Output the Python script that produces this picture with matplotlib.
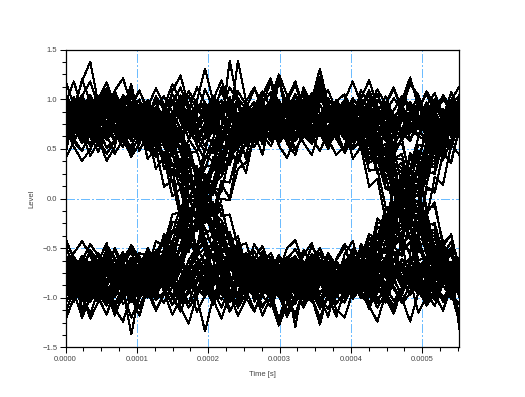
import numpy as np
import matplotlib
matplotlib.use('Agg')
import matplotlib.pyplot as plt
from matplotlib.ticker import MultipleLocator

plt.rcParams['font.family'] = ['Liberation Sans', 'DejaVu Sans']

# time between two samples of a trace [s]
sample_step = 1.15e-5

# eye diagram traces, levels in hundredths, grouped by symbol sequence
hi_hi_hi = [
    [62, 78, 95, 88, 70, 51, 59, 83, 101, 92, 74, 66, 81, 97, 85, 60, 47, 63, 79, 72, 90, 108, 94, 71, 58, 66, 85, 99, 82, 64, 55, 73, 91, 86, 68, 77, 96, 104, 83, 61, 52, 70, 88, 79, 94, 80, 63, 75, 92],
    [88, 71, 56, 64, 86, 103, 97, 77, 60, 72, 93, 84, 65, 50, 68, 89, 112, 96, 73, 62, 80, 70, 53, 66, 90, 98, 79, 87, 104, 82, 61, 48, 67, 85, 76, 92, 71, 58, 74, 95, 110, 89, 69, 81, 64, 57, 78, 99, 86],
    [70, 92, 118, 138, 95, 74, 66, 52, 71, 87, 80, 63, 77, 99, 91, 68, 58, 76, 94, 84, 62, 73, 96, 85, 107, 92, 69, 57, 64, 88, 79, 100, 93, 72, 60, 83, 74, 55, 63, 87, 101, 90, 66, 78, 97, 76, 59, 68, 85],
    [55, 68, 84, 73, 91, 105, 88, 64, 49, 62, 85, 97, 78, 69, 57, 74, 93, 81, 100, 119, 95, 72, 60, 81, 70, 58, 77, 92, 83, 66, 88, 109, 97, 75, 63, 52, 71, 90, 86, 103, 81, 67, 58, 79, 94, 106, 84, 65, 73],
    [96, 83, 67, 79, 60, 45, 58, 76, 89, 99, 84, 70, 92, 81, 63, 75, 98, 131, 97, 80, 68, 54, 70, 91, 79, 95, 86, 64, 72, 93, 102, 77, 62, 81, 99, 87, 66, 79, 61, 48, 66, 85, 92, 73, 88, 100, 79, 62, 80],
    [74, 59, 71, 94, 102, 86, 69, 80, 97, 76, 57, 66, 88, 105, 93, 72, 83, 65, 54, 73, 139, 96, 81, 70, 86, 100, 74, 61, 79, 66, 84, 98, 109, 88, 70, 58, 75, 93, 80, 67, 89, 103, 94, 72, 56, 67, 86, 96, 78],
    [83, 99, 88, 66, 53, 70, 92, 84, 71, 58, 75, 91, 79, 96, 112, 90, 73, 87, 70, 61, 79, 94, 68, 57, 72, 85, 78, 101, 118, 92, 74, 65, 80, 60, 47, 69, 84, 97, 76, 88, 72, 59, 71, 91, 105, 89, 70, 84, 63],
    [41, 57, 73, 86, 77, 95, 108, 89, 70, 80, 66, 52, 68, 87, 99, 78, 62, 75, 93, 86, 102, 83, 70, 91, 64, 53, 71, 80, 95, 104, 86, 69, 57, 74, 92, 78, 90, 109, 87, 66, 80, 95, 74, 62, 83, 70, 53, 68, 88],
    [79, 91, 70, 63, 81, 97, 90, 59, 46, 64, 83, 100, 92, 75, 60, 82, 71, 96, 84, 65, 55, 72, 88, 97, 81, 71, 94, 86, 63, 76, 59, 82, 100, 91, 74, 96, 84, 66, 73, 58, 77, 99, 122, 93, 78, 88, 71, 95, 104],
    [98, 76, 60, 78, 93, 69, 85, 104, 96, 82, 61, 74, 90, 70, 87, 103, 79, 66, 90, 108, 86, 64, 79, 72, 55, 68, 90, 102, 77, 89, 97, 70, 53, 66, 84, 72, 61, 80, 99, 91, 68, 84, 60, 72, 91, 83, 101, 87, 69],
]

hi_hi_lo = [
    [66, 81, 96, 87, 72, 59, 70, 91, 105, 88, 73, 64, 82, 98, 79, 68, 56, 71, 90, 99, 84, 62, 75, 93, 108, 91, 74, 63, 80, 95, 84, 67, 55, 72, 88, 82, 63, 70, 47, 46, 19, 14, -15, -20, -46, -49, -70, -66, -83],
    [92, 77, 63, 74, 94, 106, 85, 70, 58, 79, 97, 88, 69, 82, 101, 93, 71, 60, 77, 95, 86, 67, 91, 110, 96, 74, 65, 81, 98, 80, 62, 72, 89, 86, 68, 76, 53, 54, 25, 24, -8, -10, -41, -40, -67, -61, -82, -70, -90],
    [57, 72, 88, 99, 83, 68, 79, 95, 87, 64, 52, 69, 86, 77, 92, 108, 96, 81, 68, 59, 74, 139, 98, 77, 64, 82, 93, 71, 58, 70, 89, 102, 90, 73, 85, 97, 68, 84, 61, 70, 40, 45, 8, 10, -26, -25, -56, -50, -79],
    [85, 101, 90, 72, 61, 76, 92, 84, 67, 56, 74, 91, 103, 87, 70, 82, 66, 53, 70, 88, 95, 79, 98, 112, 89, 68, 76, 93, 81, 62, 77, 94, 82, 67, 76, 58, 64, 40, 50, 21, 30, -8, 4, -35, -25, -57, -47, -74, -62],
    [73, 60, 48, 65, 82, 97, 86, 71, 93, 108, 91, 76, 62, 79, 96, 85, 69, 81, 100, 88, 64, 57, 74, 93, 80, 99, 87, 70, 61, 79, 98, 118, 95, 76, 66, 84, 63, 80, 57, 61, 30, 36, -2, 4, -36, -31, -66, -56, -85],
    [90, 75, 59, 70, 87, 99, 81, 64, 76, 94, 85, 72, 53, 68, 88, 103, 92, 78, 66, 84, 97, 74, 63, 80, 96, 107, 88, 73, 59, 75, 92, 82, 70, 95, 86, 71, 79, 60, 60, 28, 20, -20, -30, -62, -60, -84, -70, -92, -66],
    [67, 84, 99, 91, 75, 87, 104, 89, 70, 57, 73, 92, 83, 97, 78, 61, 72, 90, 101, 84, 68, 79, 95, 72, 58, 76, 88, 69, 83, 100, 86, 70, 80, 66, 70, 51, 59, 36, 40, 12, 10, -14, -29, -40, -43, -62, -71, -70, -82],
    [95, 80, 66, 53, 69, 90, 103, 96, 82, 74, 92, 111, 94, 77, 62, 71, 88, 97, 79, 64, 83, 101, 90, 68, 77, 95, 84, 59, 49, 66, 85, 99, 93, 72, 81, 64, 78, 86, 70, 77, 54, 55, 25, 26, -9, -8, -44, -38, -70],
    [78, 64, 80, 97, 88, 70, 58, 76, 95, 109, 87, 72, 90, 79, 62, 74, 93, 85, 103, 91, 69, 57, 71, 88, 80, 97, 120, 92, 73, 86, 65, 77, 94, 83, 71, 84, 62, 66, 38, 41, 9, 6, -27, -24, -56, -52, -77, -66, -86],
    [88, 102, 84, 67, 75, 93, 81, 63, 52, 71, 89, 96, 78, 85, 104, 90, 68, 60, 77, 92, 83, 98, 79, 65, 86, 72, 55, 70, 89, 106, 95, 80, 67, 79, 91, 84, 66, 74, 50, 55, 24, 28, -10, -6, -42, -37, -66, -54, -75],
]

hi_lo_hi = [
    [71, 88, 99, 81, 65, 77, 94, 86, 69, 80, 84, 66, 70, 46, 47, 18, 15, -18, -17, -48, -45, -72, -66, -85, -71, -88, -99, -84, -66, -75, -93, -104, -82, -63, -77, -85, -64, -72, -45, -47, -18, -14, 17, 18, 46, 48, 71, 64, 84],
    [94, 80, 63, 74, 92, 101, 85, 70, 86, 66, 76, 52, 55, 24, 24, -10, -8, -42, -38, -68, -60, -82, -70, -90, -76, -61, -79, -97, -88, -68, -57, -74, -92, -80, -84, -66, -70, -45, -48, -16, -16, 17, 15, 48, 44, 73, 62, 84, 70],
    [58, 73, 91, 104, 87, 72, 61, 78, 96, 83, 70, 84, 63, 74, 48, 54, 22, 25, -11, -7, -44, -38, -69, -61, -84, -69, -88, -101, -83, -66, -58, -75, -95, -86, -70, -82, -86, -62, -73, -43, -49, -14, -17, 18, 14, 50, 42, 74, 62],
    [83, 97, 88, 70, 56, 68, 86, 80, 66, 78, 55, 62, 36, 45, 18, 24, -8, -4, -37, -30, -57, -50, -73, -62, -84, -70, -92, -81, -64, -77, -98, -86, -70, -85, -62, -74, -49, -56, -28, -34, -4, -12, 22, 16, 48, 40, 66, 55, 79],
    [62, 79, 93, 85, 100, 117, 92, 76, 60, 71, 87, 96, 80, 64, 66, 36, 30, -10, -15, -52, -53, -80, -68, -86, -74, -59, -70, -88, -105, -92, -73, -64, -81, -99, -87, -66, -78, -83, -62, -69, -36, -30, 8, 15, 50, 53, 80, 68, 88],
    [105, 90, 73, 64, 80, 98, 84, 66, 77, 92, 66, 84, 56, 67, 28, 40, -6, 8, -40, -25, -67, -52, -86, -64, -93, -79, -62, -70, -89, -100, -84, -67, -80, -96, -73, -64, -82, -53, -66, -28, -38, 4, -4, 38, 28, 66, 55, 86, 68],
    [77, 60, 71, 89, 103, 95, 79, 66, 84, 79, 76, 58, 60, 33, 32, 1, -5, -32, -34, -60, -58, -78, -70, -82, -95, -76, -62, -71, -89, -110, -93, -77, -60, -68, -86, -79, -70, -81, -62, -66, -40, -40, -10, -6, 24, 27, 54, 52, 76],
    [89, 74, 61, 75, 94, 86, 69, 57, 72, 90, 99, 70, 78, 57, 60, 33, 33, 0, -4, -33, -34, -60, -57, -78, -70, -84, -97, -80, -64, -73, -90, -104, -83, -68, -80, -61, -66, -40, -40, -10, -6, 24, 26, 54, 52, 76, 66, 84, 70],
    [66, 83, 97, 81, 69, 88, 106, 90, 74, 83, 67, 74, 52, 55, 27, 22, -6, -12, -40, -41, -66, -62, -85, -68, -88, -71, -58, -76, -93, -84, -67, -75, -96, -82, -66, -74, -55, -60, -36, -38, -12, -14, 14, 10, 38, 34, 60, 52, 76],
    [97, 79, 64, 73, 90, 82, 66, 80, 88, 70, 76, 55, 60, 33, 40, 10, 15, -14, -12, -42, -36, -64, -55, -77, -68, -88, -76, -60, -71, -93, -104, -86, -70, -81, -97, -73, -78, -56, -61, -32, -34, -2, 0, 32, 34, 60, 55, 79, 68],
]

hi_lo_lo = [
    [80, 95, 76, 62, 73, 91, 102, 87, 70, 59, 73, 78, 57, 62, 32, 34, 0, -3, -33, -34, -61, -60, -80, -70, -88, -102, -84, -67, -76, -95, -80, -62, -71, -89, -99, -85, -70, -62, -78, -96, -108, -90, -72, -84, -67, -58, -79, -94, -125],
    [66, 81, 98, 88, 72, 60, 78, 93, 80, 68, 62, 55, 40, 36, 10, 4, -24, -30, -52, -54, -72, -70, -81, -64, -76, -93, -87, -70, -58, -73, -90, -106, -92, -77, -86, -69, -55, -71, -89, -97, -81, -66, -78, -95, -88, -72, -61, -80, -99],
    [86, 72, 58, 69, 88, 103, 94, 79, 64, 77, 96, 84, 82, 64, 72, 45, 48, 18, 16, -18, -16, -48, -45, -72, -63, -85, -90, -74, -63, -82, -100, -127, -94, -78, -69, -86, -97, -79, -60, -72, -89, -103, -88, -70, -76, -93, -84, -65, -74],
    [59, 74, 91, 83, 99, 111, 90, 76, 64, 78, 58, 67, 40, 46, 20, 24, -6, -6, -38, -30, -60, -48, -76, -62, -86, -70, -61, -79, -95, -86, -70, -83, -101, -88, -67, -57, -75, -92, -80, -96, -112, -89, -73, -64, -82, -98, -87, -69, -81],
    [92, 77, 65, 82, 100, 89, 71, 58, 67, 85, 97, 80, 84, 62, 70, 34, 33, -10, -12, -55, -50, -82, -70, -81, -95, -77, -62, -70, -88, -99, -84, -66, -79, -93, -72, -58, -74, -91, -105, -86, -69, -80, -96, -77, -63, -85, -100, -89, -71],
    [70, 57, 48, 66, 84, 97, 81, 94, 110, 88, 66, 80, 55, 64, 30, 37, -4, 6, -38, -28, -66, -54, -84, -66, -74, -90, -83, -64, -58, -77, -94, -107, -91, -73, -85, -68, -82, -99, -87, -70, -61, -79, -97, -84, -71, -88, -104, -92, -76],
    [77, 93, 104, 86, 71, 62, 80, 95, 80, 64, 70, 43, 47, 16, 14, -18, -17, -50, -46, -73, -64, -86, -73, -61, -77, -92, -85, -103, -88, -70, -64, -81, -96, -79, -68, -86, -100, -91, -74, -59, -72, -90, -84, -97, -80, -65, -76, -93, -86],
    [84, 98, 90, 73, 60, 71, 87, 102, 93, 76, 66, 82, 64, 70, 47, 45, 20, 10, -14, -22, -44, -50, -69, -68, -82, -96, -81, -67, -75, -93, -86, -70, -57, -68, -85, -101, -90, -74, -80, -95, -83, -62, -71, -89, -108, -94, -78, -66, -80],
    [63, 76, 92, 87, 71, 84, 100, 93, 77, 70, 80, 62, 63, 43, 37, 12, 6, -22, -28, -51, -53, -71, -70, -79, -88, -73, -60, -76, -91, -99, -83, -70, -87, -96, -77, -65, -82, -93, -110, -95, -76, -68, -84, -97, -88, -72, -63, -79, -92],
    [91, 79, 66, 55, 72, 89, 81, 97, 105, 86, 82, 66, 76, 52, 53, 24, 22, -9, -12, -40, -41, -66, -62, -82, -70, -85, -71, -60, -78, -94, -87, -69, -80, -98, -105, -88, -72, -62, -77, -91, -84, -67, -79, -95, -86, -70, -81, -99, -90],
]

lo_hi_hi = [
    [-84, -97, -80, -66, -75, -92, -118, -95, -78, -67, -72, -80, -58, -62, -32, -34, 2, -3, 33, 34, 60, 57, 80, 70, 84, 98, 82, 66, 74, 91, 80, 63, 70, 88, 99, 86, 71, 62, 79, 95, 110, 90, 72, 84, 67, 58, 77, 94, 83],
    [-70, -86, -99, -88, -72, -61, -78, -94, -82, -68, -62, -57, -38, -36, -8, -4, 26, 30, 54, 54, 74, 70, 82, 64, 76, 92, 86, 70, 58, 73, 90, 104, 92, 77, 86, 69, 55, 71, 89, 97, 81, 66, 78, 95, 88, 72, 61, 80, 99],
    [-62, -79, -93, -85, -68, -57, -74, -90, -104, -88, -73, -82, -84, -64, -74, -45, -48, -18, -14, 18, 16, 48, 45, 72, 63, 86, 92, 74, 63, 82, 99, 131, 94, 78, 69, 86, 97, 79, 60, 72, 89, 103, 88, 70, 76, 93, 84, 65, 74],
    [-88, -74, -60, -71, -90, -102, -86, -78, -66, -78, -56, -64, -40, -44, -18, -22, 6, 5, 36, 32, 60, 50, 75, 62, 86, 70, 63, 79, 95, 86, 70, 83, 101, 88, 67, 57, 75, 92, 80, 96, 112, 89, 73, 64, 82, 98, 87, 69, 81],
    [-73, -59, -70, -88, -99, -84, -67, -77, -95, -109, -90, -76, -82, -64, -68, -34, -30, 10, 14, 54, 50, 80, 70, 81, 95, 77, 62, 70, 88, 99, 84, 66, 79, 93, 72, 58, 74, 91, 105, 86, 69, 80, 96, 77, 63, 85, 100, 89, 71],
    [-91, -76, -64, -57, -72, -88, -97, -83, -70, -81, -66, -80, -55, -64, -30, -37, 4, -6, 38, 28, 66, 54, 84, 66, 74, 90, 83, 64, 58, 77, 94, 107, 91, 73, 85, 68, 82, 99, 87, 70, 61, 79, 97, 84, 71, 88, 104, 92, 76],
    [-66, -82, -95, -104, -87, -72, -61, -77, -84, -64, -72, -43, -48, -16, -14, 18, 17, 50, 46, 73, 64, 86, 73, 61, 77, 92, 85, 103, 88, 70, 64, 81, 96, 79, 68, 86, 100, 91, 74, 59, 72, 90, 84, 97, 80, 65, 76, 93, 86],
    [-79, -95, -86, -70, -62, -76, -93, -101, -85, -68, -74, -82, -64, -70, -47, -45, -20, -10, 14, 22, 44, 50, 69, 68, 82, 96, 81, 67, 75, 93, 86, 70, 57, 68, 85, 101, 90, 74, 80, 95, 83, 62, 71, 89, 108, 94, 78, 66, 80],
    [-75, -90, -103, -88, -71, -64, -80, -96, -84, -70, -80, -62, -63, -43, -37, -12, -6, 22, 28, 51, 53, 71, 70, 79, 88, 73, 60, 76, 91, 99, 83, 70, 87, 96, 77, 65, 82, 93, 110, 95, 76, 68, 84, 97, 88, 72, 63, 79, 92],
    [-64, -78, -92, -85, -71, -59, -68, -86, -99, -80, -82, -66, -76, -52, -53, -24, -22, 9, 12, 40, 41, 66, 62, 82, 70, 85, 71, 60, 78, 94, 87, 69, 80, 98, 105, 88, 72, 62, 77, 91, 84, 67, 79, 95, 86, 70, 81, 99, 90],
]

lo_hi_lo = [
    [-69, -84, -96, -81, -65, -77, -92, -86, -70, -79, -84, -66, -70, -46, -47, -18, -15, 18, 17, 48, 45, 72, 66, 85, 71, 88, 99, 84, 66, 75, 93, 122, 82, 63, 77, 85, 64, 72, 45, 47, 18, 14, -17, -18, -46, -48, -71, -64, -84],
    [-92, -78, -63, -72, -90, -101, -85, -70, -86, -66, -76, -52, -55, -24, -24, 10, 8, 42, 38, 68, 60, 82, 70, 90, 76, 61, 79, 97, 88, 68, 57, 74, 92, 80, 84, 66, 70, 45, 48, 16, 16, -17, -15, -48, -44, -73, -62, -84, -70],
    [-58, -73, -91, -104, -87, -72, -61, -78, -96, -83, -70, -84, -63, -74, -48, -54, -22, -25, 11, 7, 44, 38, 69, 61, 84, 69, 88, 101, 83, 66, 58, 75, 95, 86, 70, 82, 86, 62, 73, 43, 49, 14, 17, -18, -14, -50, -42, -74, -62],
    [-83, -97, -88, -70, -56, -68, -86, -80, -66, -78, -55, -62, -36, -45, -18, -24, 8, 4, 37, 30, 57, 50, 73, 62, 84, 70, 120, 81, 64, 77, 98, 86, 70, 85, 62, 74, 49, 56, 28, 34, 4, 12, -22, -16, -48, -40, -66, -55, -79],
    [-62, -79, -93, -85, -100, -117, -92, -76, -60, -71, -87, -96, -80, -64, -66, -36, -30, 10, 15, 52, 53, 80, 68, 86, 74, 59, 70, 88, 105, 92, 73, 64, 81, 99, 87, 66, 78, 83, 62, 69, 36, 30, -8, -15, -50, -53, -80, -68, -88],
    [-105, -90, -73, -64, -80, -98, -84, -66, -77, -92, -66, -84, -56, -67, -28, -40, 6, -8, 40, 25, 67, 52, 86, 64, 93, 79, 62, 70, 89, 100, 84, 67, 80, 96, 73, 64, 82, 53, 66, 28, 38, -4, 4, -38, -28, -66, -55, -86, -68],
    [-77, -60, -71, -89, -103, -95, -79, -66, -84, -79, -76, -58, -60, -33, -32, -1, 5, 32, 34, 60, 58, 78, 70, 82, 95, 76, 62, 71, 89, 110, 93, 77, 60, 68, 86, 79, 70, 81, 62, 66, 40, 40, 10, 6, -24, -27, -54, -52, -76],
    [-89, -74, -61, -75, -94, -86, -69, -57, -72, -90, -99, -70, -78, -57, -60, -33, -33, 0, 4, 33, 34, 60, 57, 78, 70, 84, 97, 80, 64, 73, 90, 104, 83, 68, 80, 61, 66, 40, 40, 10, 6, -24, -26, -54, -52, -76, -66, -84, -70],
    [-66, -83, -97, -81, -69, -88, -106, -90, -74, -83, -67, -74, -52, -55, -27, -22, 6, 12, 40, 41, 66, 62, 85, 68, 88, 71, 58, 76, 93, 84, 67, 75, 96, 82, 66, 74, 55, 60, 36, 38, 12, 14, -14, -10, -38, -34, -60, -52, -76],
    [-97, -79, -64, -73, -90, -82, -66, -80, -88, -70, -76, -55, -60, -33, -40, -10, -15, 14, 12, 42, 36, 64, 55, 77, 68, 88, 76, 60, 71, 93, 104, 86, 70, 81, 97, 73, 78, 56, 61, 32, 34, 2, 0, -32, -34, -60, -55, -79, -68],
]

lo_lo_hi = [
    [-71, -86, -99, -90, -75, -62, -73, -92, -137, -95, -77, -68, -84, -100, -88, -70, -59, -74, -93, -102, -86, -65, -78, -96, -110, -93, -76, -66, -83, -98, -86, -69, -58, -75, -91, -82, -63, -70, -47, -46, -19, -14, 15, 20, 46, 49, 70, 66, 83],
    [-94, -79, -65, -76, -96, -108, -87, -72, -60, -81, -99, -90, -71, -84, -103, -95, -73, -62, -79, -97, -88, -69, -93, -112, -98, -76, -67, -83, -130, -82, -64, -74, -91, -86, -68, -76, -53, -54, -25, -24, 8, 10, 41, 40, 67, 61, 82, 70, 90],
    [-59, -74, -90, -101, -85, -70, -81, -97, -89, -66, -54, -71, -88, -79, -94, -110, -98, -83, -70, -61, -76, -99, -100, -79, -66, -84, -95, -73, -60, -72, -91, -104, -92, -75, -87, -99, -68, -84, -61, -70, -40, -45, -8, -10, 26, 25, 56, 50, 79],
    [-87, -103, -92, -74, -63, -45, -94, -86, -69, -58, -76, -93, -105, -89, -72, -84, -68, -55, -72, -90, -97, -81, -100, -114, -91, -70, -78, -95, -83, -64, -79, -96, -82, -67, -76, -58, -64, -40, -50, -21, -30, 8, -4, 35, 25, 57, 47, 74, 62],
    [-75, -62, -120, -67, -84, -99, -88, -73, -95, -110, -93, -78, -64, -81, -98, -87, -71, -83, -102, -90, -66, -59, -76, -95, -82, -101, -89, -72, -63, -81, -100, -120, -97, -78, -68, -86, -63, -80, -57, -61, -30, -36, 2, -4, 36, 31, 66, 56, 85],
    [-92, -77, -61, -72, -89, -101, -83, -66, -78, -96, -87, -74, -55, -70, -90, -105, -94, -80, -68, -86, -99, -76, -65, -82, -98, -109, -90, -75, -61, -77, -94, -84, -72, -97, -88, -73, -79, -60, -60, -28, -20, 20, 30, 62, 60, 84, 70, 92, 66],
    [-69, -86, -101, -93, -77, -89, -106, -91, -72, -59, -75, -94, -85, -99, -80, -63, -74, -92, -103, -86, -70, -81, -97, -74, -60, -78, -90, -71, -85, -102, -88, -72, -80, -66, -70, -51, -59, -36, -40, -12, -10, 14, 29, 40, 43, 62, 71, 70, 82],
    [-97, -82, -68, -55, -71, -92, -105, -98, -84, -76, -94, -113, -96, -79, -64, -73, -90, -99, -81, -66, -85, -103, -92, -70, -79, -97, -86, -61, -51, -68, -87, -101, -95, -74, -83, -66, -80, -86, -70, -77, -54, -55, -25, -26, 9, 8, 44, 38, 70],
    [-80, -66, -82, -99, -90, -72, -60, -78, -97, -111, -89, -74, -92, -81, -64, -76, -95, -87, -105, -93, -71, -59, -73, -90, -82, -99, -122, -94, -75, -88, -67, -79, -96, -85, -71, -84, -62, -66, -38, -41, -9, -6, 27, 24, 56, 52, 77, 66, 86],
    [-90, -104, -86, -69, -77, -95, -83, -65, -54, -73, -91, -98, -80, -87, -106, -92, -70, -62, -79, -94, -85, -100, -81, -67, -88, -74, -57, -72, -91, -108, -97, -82, -69, -81, -93, -84, -66, -74, -50, -55, -24, -28, 10, 6, 42, 37, 66, 54, 75],
]

lo_lo_lo = [
    [-64, -80, -97, -90, -72, -53, -61, -85, -103, -94, -76, -68, -83, -99, -87, -62, -49, -65, -81, -74, -92, -110, -96, -73, -60, -68, -87, -101, -84, -66, -57, -75, -93, -88, -70, -79, -98, -106, -85, -63, -54, -72, -90, -81, -96, -82, -65, -77, -94],
    [-90, -73, -58, -66, -88, -105, -99, -79, -62, -74, -95, -86, -67, -52, -70, -91, -114, -98, -75, -64, -82, -72, -55, -68, -92, -100, -81, -89, -106, -84, -63, -50, -69, -87, -78, -94, -73, -60, -76, -97, -112, -91, -71, -83, -66, -59, -80, -101, -88],
    [-72, -94, -120, -100, -97, -76, -68, -54, -73, -89, -82, -65, -79, -101, -93, -70, -60, -78, -96, -86, -64, -75, -98, -87, -109, -94, -71, -59, -66, -90, -81, -102, -95, -74, -62, -85, -76, -57, -65, -89, -103, -92, -68, -80, -99, -78, -61, -70, -87],
    [-57, -70, -86, -75, -93, -107, -90, -66, -51, -64, -87, -99, -80, -71, -59, -76, -95, -83, -102, -121, -97, -74, -62, -83, -72, -60, -79, -94, -85, -68, -90, -111, -99, -77, -65, -54, -73, -92, -88, -105, -83, -69, -60, -81, -96, -108, -86, -67, -75],
    [-98, -85, -69, -81, -62, -47, -60, -78, -91, -101, -86, -72, -94, -83, -65, -77, -100, -134, -99, -82, -70, -56, -72, -93, -81, -97, -88, -66, -74, -95, -104, -79, -64, -83, -101, -89, -68, -81, -63, -50, -68, -87, -94, -75, -90, -102, -81, -64, -82],
    [-76, -61, -73, -96, -104, -88, -71, -82, -99, -78, -59, -68, -90, -107, -95, -74, -85, -67, -56, -75, -100, -98, -83, -72, -88, -102, -76, -63, -81, -68, -86, -100, -111, -90, -72, -60, -77, -95, -82, -69, -91, -105, -96, -74, -58, -69, -88, -98, -80],
    [-85, -101, -90, -68, -55, -72, -94, -86, -73, -60, -77, -93, -81, -98, -114, -92, -75, -89, -72, -63, -81, -96, -70, -59, -74, -87, -80, -103, -120, -94, -76, -67, -82, -62, -49, -71, -86, -99, -78, -90, -74, -61, -73, -93, -107, -91, -72, -86, -65],
    [-43, -59, -75, -88, -79, -97, -110, -91, -72, -82, -68, -54, -70, -89, -101, -80, -64, -77, -95, -88, -104, -85, -72, -93, -66, -55, -73, -82, -97, -106, -88, -71, -59, -76, -94, -80, -92, -111, -89, -68, -82, -97, -76, -64, -85, -72, -55, -70, -131],
    [-81, -93, -72, -65, -83, -99, -92, -61, -48, -66, -85, -102, -94, -77, -62, -84, -73, -98, -86, -67, -57, -74, -90, -99, -83, -73, -96, -88, -65, -78, -61, -84, -102, -93, -76, -98, -86, -68, -75, -60, -79, -101, -124, -95, -80, -90, -73, -97, -106],
    [-100, -78, -62, -80, -95, -71, -87, -106, -98, -84, -63, -76, -92, -72, -89, -105, -81, -68, -92, -110, -88, -66, -81, -74, -57, -70, -92, -104, -79, -91, -99, -72, -55, -68, -86, -74, -63, -82, -101, -93, -70, -86, -62, -74, -93, -85, -103, -89, -71],
]

# noisier traces with early / late / slow transitions
wide_traces = [
    [45, 88, 120, 97, 60, 38, 52, 90, 115, 78, 50, 42, 70, 108, 124, 93, 61, 47, 83, 112, 98, 66, 40, 58, 95, 117, 86, 55, 44, 71, 103, 121, 92, 63, 49, 77, 109, 96, 59, 36, 54, 88, 118, 101, 70, 46, 62, 99, 113],
    [-40, -62, -95, -121, -104, -72, -50, -66, -99, -118, -90, -58, -44, -73, -110, -126, -97, -65, -48, -80, -113, -101, -69, -46, -60, -94, -122, -107, -75, -52, -67, -100, -119, -88, -56, -43, -71, -108, -124, -96, -63, -47, -82, -115, -99, -68, -51, -86, -117],
    [102, 84, 58, 71, 96, 110, 88, 60, 80, 48, 66, 30, 42, 2, 10, -28, -20, -55, -44, -75, -60, -88, -70, -104, -85, -60, -73, -98, -117, -92, -66, -55, -79, -106, -94, -70, -88, -92, -64, -80, -48, -58, -20, -30, 12, 6, 46, 36, 72],
    [-60, -83, -110, -96, -71, -52, -68, -95, -120, -101, -77, -58, -72, -90, -66, -70, -48, -35, -30, 0, -2, 30, 36, 62, 58, 84, 66, 98, 114, 90, 63, 80, 80, 64, 76, 50, 58, 28, 30, -8, -10, -44, -38, -70, -60, -84, -70, -96, -78],
    [118, 94, 66, 43, 57, 86, 109, 121, 95, 70, 49, 64, 92, 115, 100, 73, 54, 39, 61, 90, 112, 98, 75, 52, 68, 101, 125, 104, 78, 56, 44, 70, 92, 60, 76, 40, 52, 12, 20, -22, -14, -54, -44, -78, -60, -92, -70, -100, -62],
    [-115, -92, -63, -46, -58, -88, -111, -124, -97, -72, -50, -65, -94, -117, -102, -75, -55, -41, -62, -91, -114, -99, -76, -53, -69, -103, -128, -106, -80, -57, -45, -71, -98, -119, -93, -68, -52, -80, -94, -62, -78, -42, -54, -12, -20, 22, 14, 54, 44],
    [52, 77, 103, 118, 92, 64, 45, 60, 88, 100, 64, 70, 30, 30, -12, -10, -58, -50, -88, -64, -96, -118, -101, -74, -53, -67, -92, -114, -98, -70, -48, -62, -89, -112, -120, -94, -66, -51, -73, -100, -116, -90, -64, -47, -69, -97, -113, -88, -60],
    [-47, -70, -99, -116, -93, -68, -52, -74, -103, -88, -100, -62, -82, -50, -70, -34, -50, -10, -26, 14, 0, 44, 26, 66, 44, 84, 60, 96, 70, 112, 94, 66, 50, 71, 99, 118, 96, 72, 55, 43, 68, 93, 115, 104, 77, 58, 82, 107, 90],
    [96, 118, 90, 62, 47, 70, 99, 84, 60, 74, 40, 50, 12, 18, -20, -14, -52, -42, -78, -60, -92, -108, -84, -60, -48, -70, -97, -119, -102, -77, -56, -66, -90, -96, -62, -82, -46, -58, -20, -28, 12, 6, 46, 34, 74, 56, 90, 64, 104],
    [-122, -100, -73, -52, -64, -93, -115, -98, -71, -55, -58, -88, -50, -70, -22, -40, 10, -6, 42, 26, 70, 48, 92, 60, 104, 121, 93, 68, 50, 62, 91, 113, 97, 70, 46, 60, 86, 98, 62, 84, 44, 60, 18, 30, -14, -4, -48, -36, -74],
    [70, 52, 38, 49, 74, 96, 83, 61, 42, 55, 80, 103, 89, 66, 47, 58, 85, 110, 92, 68, 50, 36, 57, 82, 99, 77, 53, 41, 63, 90, 106, 86, 59, 44, 52, 78, 101, 119, 93, 67, 48, 60, 87, 104, 80, 56, 39, 58, 84],
    [-72, -55, -43, -57, -81, -104, -90, -64, -47, -60, -86, -112, -96, -70, -51, -40, -59, -88, -107, -84, -58, -45, -63, -92, -118, -99, -73, -50, -42, -66, -94, -110, -87, -61, -46, -55, -82, -106, -95, -69, -49, -38, -57, -85, -103, -80, -56, -44, -68],
]

x_ticks = [0.0, 0.0001, 0.0002, 0.0003, 0.0004, 0.0005]
x_tick_labels = ['0.0000', '0.0001', '0.0002', '0.0003', '0.0004', '0.0005']
y_ticks = [-1.5, -1.0, -0.5, 0.0, 0.5, 1.0, 1.5]
y_tick_labels = ['\u22121.5', '\u22121.0', '\u22120.5', '0.0', '0.5', '1.0', '1.5']

fig = plt.figure(figsize=(5.25, 3.97), dpi=100)
ax = fig.add_axes([0.125, 0.125, 0.75, 0.75])

groups = [hi_hi_hi, hi_hi_lo, hi_lo_hi, hi_lo_lo, lo_hi_hi, lo_hi_lo, lo_lo_hi, lo_lo_lo, wide_traces]
for group in groups:
    for trace in group:
        level = np.array(trace) / 100.0
        t = np.arange(len(level)) * sample_step
        ax.plot(t, level, color='black', lw=0.72, antialiased=False, zorder=3)

ax.set_xlim(0, 0.000552)
ax.set_ylim(-1.5, 1.5)
ax.set_xticks(x_ticks, x_tick_labels)
ax.set_yticks(y_ticks, y_tick_labels)
ax.xaxis.set_minor_locator(MultipleLocator(0.000025))
ax.yaxis.set_minor_locator(MultipleLocator(0.125))
ax.tick_params(which='both', direction='out', top=False, right=False,
               width=0.75, labelsize=5.5, labelcolor='#444444', pad=2)
ax.tick_params(which='major', length=4)
ax.tick_params(which='minor', length=3)

ax.set_axisbelow(True)
ax.grid(True, which='major', color='#6cbcff', lw=0.75,
        linestyle=(0, (8, 2, 1, 2)), antialiased=False)

for s in ax.spines.values():
    s.set_linewidth(0.9)

ax.set_xlabel('Time [s]', fontsize=5.5, color='#444444', labelpad=6)
ax.set_ylabel('Level', fontsize=5.5, color='#444444', labelpad=5)

fig.savefig('out.png', dpi=100)
